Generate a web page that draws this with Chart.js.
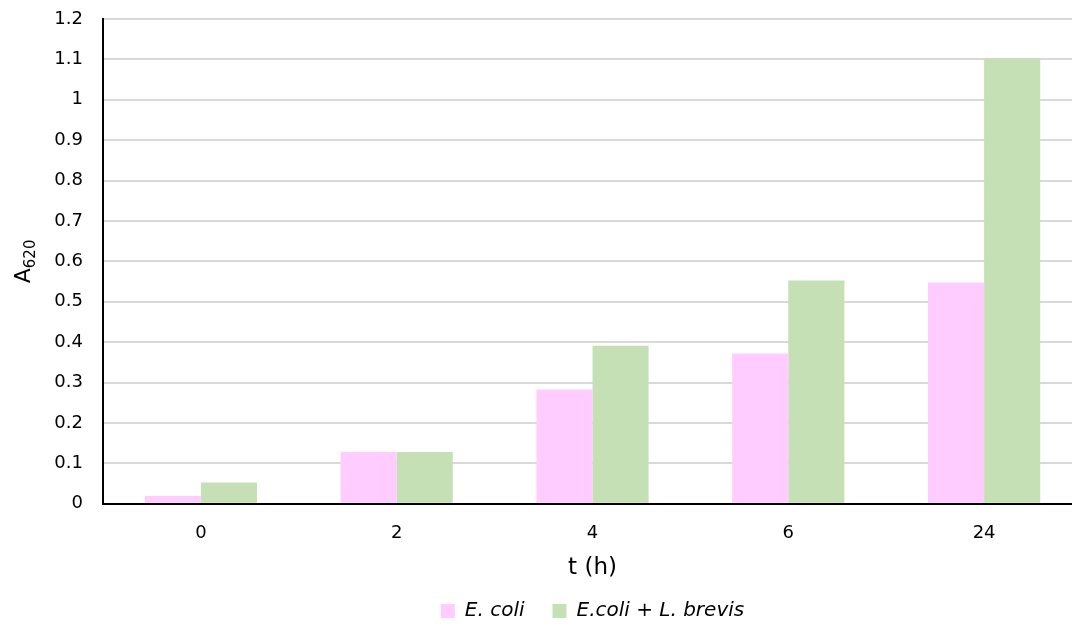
<!DOCTYPE html>
<html><head><meta charset="utf-8">
<script src="https://cdn.jsdelivr.net/npm/chart.js@4"></script>
<style>html,body{margin:0;padding:0;background:#fff;overflow:hidden}#w{width:1082px;height:629px}</style>
</head><body><div id="w"><canvas id="c"></canvas></div>
<script>
const categories = ['0','2','4','6','24'];
const ecoli = [0.019, 0.128, 0.283, 0.372, 0.548];
const ecoliBrevis = [0.053, 0.128, 0.391, 0.553, 1.103];
const yTicks = [0,0.1,0.2,0.3,0.4,0.5,0.6,0.7,0.8,0.9,1,1.1,1.2];
const FONT = "'DejaVu Sans', Verdana, sans-serif";

const yTitle = {
  id:'yTitle',
  afterDraw(chart){
    const ctx = chart.ctx, a = chart.chartArea;
    ctx.save();
    ctx.translate(30, (a.top+a.bottom)/2);
    ctx.rotate(-Math.PI/2);
    ctx.fillStyle = '#000';
    ctx.textBaseline = 'alphabetic';
    ctx.font = '22px ' + FONT;
    const w1 = ctx.measureText('A').width;
    ctx.font = '15px ' + FONT;
    const w2 = ctx.measureText('620').width;
    const x0 = -(w1+w2)/2;
    ctx.font = '22px ' + FONT;
    ctx.fillText('A', x0, 0);
    ctx.font = '15px ' + FONT;
    ctx.fillText('620', x0+w1, 5);
    ctx.restore();
  }
};

new Chart(document.getElementById('c'), {
  type:'bar',
  data:{labels:categories, datasets:[
    {label:'E. coli', data:ecoli, backgroundColor:'#FFCCFF', categoryPercentage:0.573, barPercentage:1},
    {label:'E.coli + L. brevis', data:ecoliBrevis, backgroundColor:'#C5E0B4', categoryPercentage:0.573, barPercentage:1}
  ]},
  options:{
    responsive:true, maintainAspectRatio:false, animation:false,
    layout:{padding:{top:19, right:0, left:0, bottom:-2}},
    plugins:{
      legend:{position:'bottom', fullSize:false, labels:{font:{family:FONT, size:20, style:'italic'}, color:'#000', boxWidth:14, boxHeight:14, padding:28}},
      tooltip:{enabled:false}
    },
    scales:{
      x:{
        grid:{display:false, drawTicks:false},
        border:{color:'#000', width:2},
        ticks:{font:{family:FONT, size:18}, color:'#000', padding:19},
        title:{display:true, text:'t (h)', font:{family:FONT, size:23}, color:'#000', padding:{top:-9,bottom:-9}}
      },
      y:{
        min:0, max:1.2,
        afterBuildTicks(s){ s.ticks = yTicks.map(v=>({value:v})); },
        afterFit(s){ s.width = 103; s.paddingTop = 0; s.paddingBottom = 0; },
        grid:{color:'#d9d9d9', lineWidth:2, drawTicks:false},
        border:{color:'#000', width:2},
        ticks:{font:{family:FONT, size:18}, color:'#000', padding:20, callback:v=>String(Math.round(v*10)/10)}
      }
    }
  },
  plugins:[yTitle]
});
</script></body></html>
